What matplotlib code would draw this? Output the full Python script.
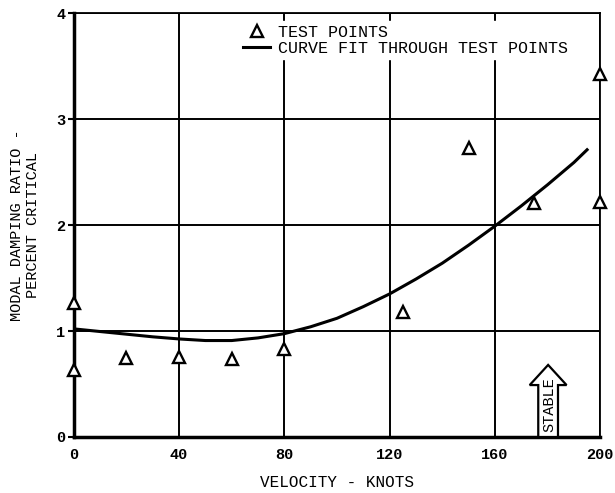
import matplotlib.pyplot as plt
from matplotlib.patches import FancyArrow

# test points
test_v = [0, 0, 20, 40, 60, 80, 125, 150, 175, 200, 200]
test_damp = [1.26, 0.63, 0.745, 0.75, 0.735, 0.83, 1.18, 2.73, 2.21, 3.42, 2.22]

# curve fit
fit_v = [0, 10, 20, 30, 40, 50, 60, 70, 80, 90, 100, 110, 120, 130,
         140, 150, 160, 170, 180, 190, 195]
fit_damp = [1.02, 0.995, 0.97, 0.945, 0.925, 0.91, 0.91, 0.935, 0.975,
            1.04, 1.12, 1.23, 1.35, 1.49, 1.64, 1.81, 1.99, 2.18, 2.38,
            2.59, 2.71]

x_ticks = [0, 40, 80, 120, 160, 200]
y_ticks = [0, 1, 2, 3, 4]

mono = 'Liberation Mono'

fig = plt.figure(figsize=(6.15, 4.93), dpi=100)
ax = fig.add_axes([0.120, 0.1136, 0.856, 0.86])

ax.set_xlim(0, 200)
ax.set_ylim(0, 4)
ax.set_xticks(x_ticks)
ax.set_yticks(y_ticks)
ax.set_xticklabels([str(t) for t in x_ticks], fontfamily=mono,
                   fontweight='bold', fontsize=11)
ax.set_yticklabels([str(t) for t in y_ticks], fontfamily=mono,
                   fontweight='bold', fontsize=11)
ax.tick_params(axis='x', length=0, pad=8)
ax.tick_params(axis='y', length=4, width=1.5, pad=2)
ax.grid(True, color='black', linewidth=1.4)
ax.set_axisbelow(True)
for side in ['left', 'bottom']:
    ax.spines[side].set_linewidth(2.5)
for side in ['top', 'right']:
    ax.spines[side].set_linewidth(1.3)

ax.plot(fit_v, fit_damp, color='black', linewidth=2.2,
        label='CURVE FIT THROUGH TEST POINTS', zorder=3)
ax.plot(test_v, test_damp, linestyle='none', marker='^', markersize=8,
        markerfacecolor='white', markeredgecolor='black',
        markeredgewidth=1.7, label='TEST POINTS', zorder=4, clip_on=False)

handles, labels = ax.get_legend_handles_labels()
leg = ax.legend(handles[::-1], labels[::-1], loc='upper left',
                bbox_to_anchor=(0.30, 1.0), frameon=True,
                prop={'family': mono, 'size': 12}, handlelength=1.6,
                handletextpad=0.5, borderpad=0.2, labelspacing=0.05,
                fancybox=False)
leg.get_frame().set_edgecolor('white')
leg.get_frame().set_facecolor('white')
leg.get_frame().set_alpha(1)

# "STABLE" arrow
arrow = FancyArrow(180.2, 0, 0, 0.68, width=7.5, head_width=14,
                   head_length=0.19, length_includes_head=True,
                   facecolor='white', edgecolor='black', linewidth=1.6,
                   zorder=5)
ax.add_patch(arrow)
ax.text(180.6, 0.31, 'STABLE', rotation=90, ha='center', va='center',
        fontfamily=mono, fontsize=11, zorder=6)

ax.set_xlabel('VELOCITY - KNOTS', fontfamily=mono, fontsize=11.5,
              labelpad=9)
ax.set_ylabel('MODAL DAMPING RATIO -\nPERCENT CRITICAL', fontfamily=mono,
              fontsize=11, linespacing=1.2)
ax.yaxis.set_label_coords(-0.064, 0.5)

fig.savefig('out.png', dpi=100)
